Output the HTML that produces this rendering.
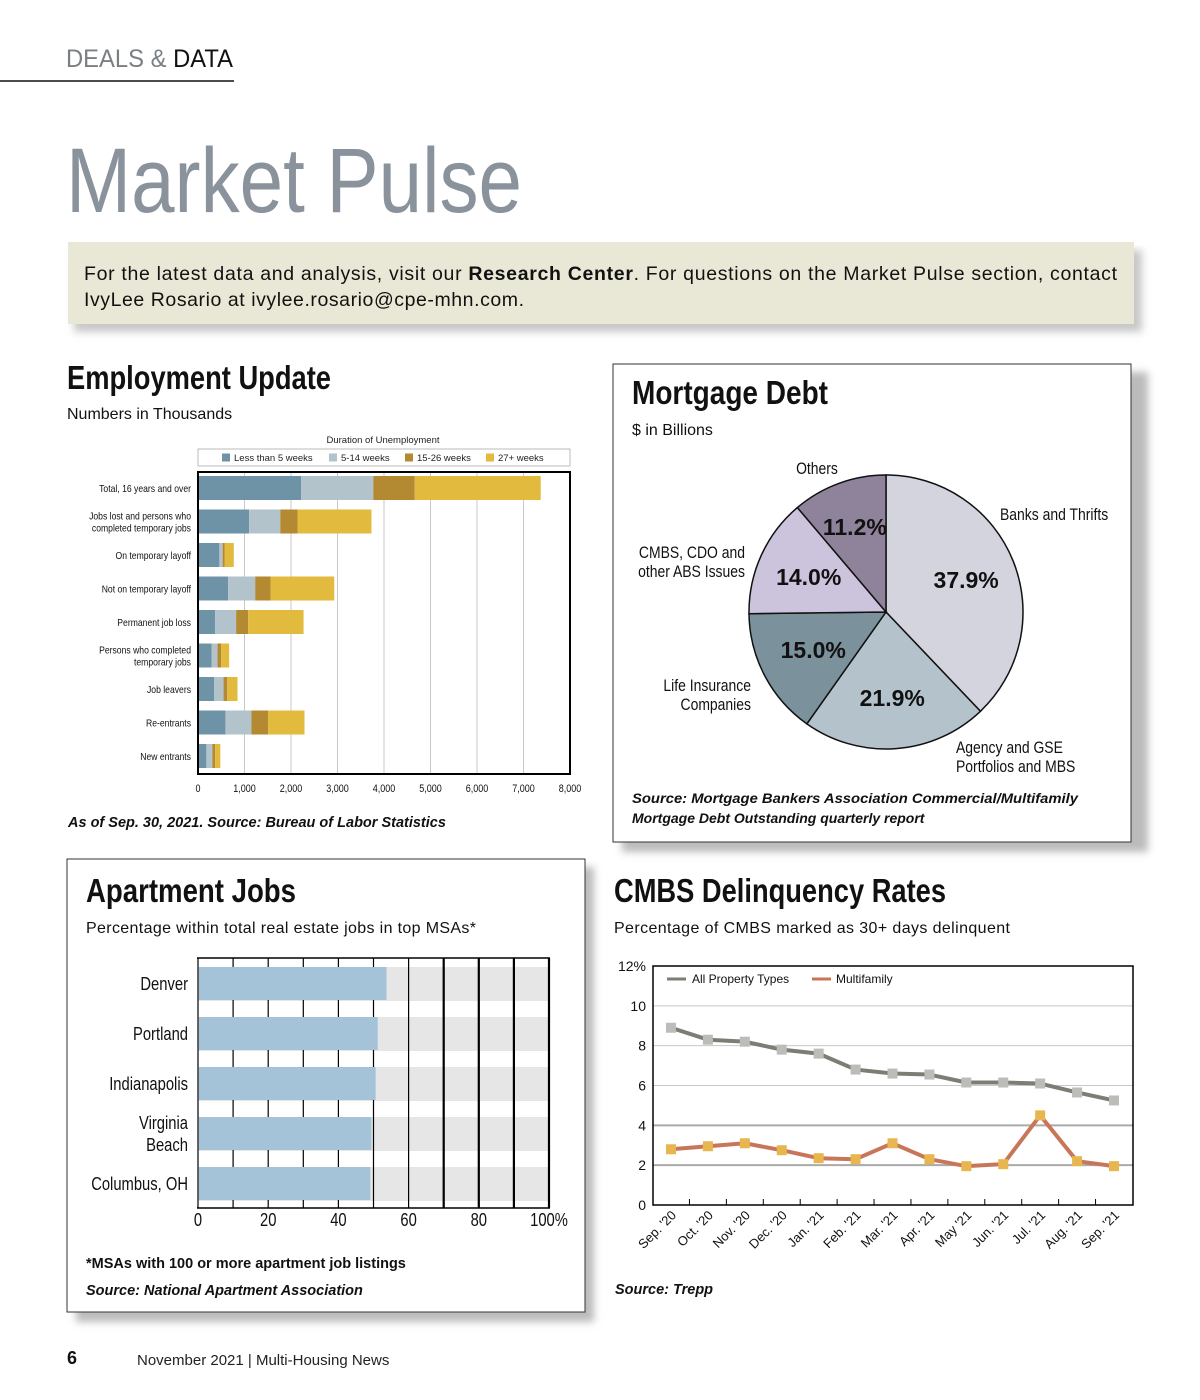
<!DOCTYPE html>
<html><head><meta charset="utf-8"><style>
html,body{margin:0;padding:0;background:#fff;}
svg{display:block;font-family:"Liberation Sans",sans-serif;}
</style></head><body>
<svg id="pg" width="1200" height="1400" viewBox="0 0 1200 1400" xmlns="http://www.w3.org/2000/svg">
<defs>
<filter id="sh" x="-5%" y="-5%" width="115%" height="120%"><feGaussianBlur stdDeviation="4"/></filter>
</defs>
<!-- header -->
<text x="66" y="67" font-size="25" fill="#7a7f84" textLength="167" lengthAdjust="spacingAndGlyphs">DEALS &amp; <tspan fill="#111">DATA</tspan></text>
<line x1="0" y1="81" x2="234" y2="81" stroke="#111" stroke-width="1.5"/>
<text x="66" y="212" font-size="92" fill="#8a939c" textLength="456" lengthAdjust="spacingAndGlyphs">Market Pulse</text>
<!-- info box -->
<rect x="74" y="250" width="1068" height="82" fill="#c8c8c8" filter="url(#sh)"/>
<rect x="68" y="242" width="1066" height="82" fill="#e9e8d6"/>
<text x="84" y="280" font-size="19.5" fill="#111" textLength="1033" lengthAdjust="spacing">For the latest data and analysis, visit our <tspan font-weight="bold">Research Center</tspan>. For questions on the Market Pulse section, contact</text>
<text x="84" y="306" font-size="19.5" fill="#111" textLength="440" lengthAdjust="spacing">IvyLee Rosario at ivylee.rosario@cpe-mhn.com.</text>

<!-- employment -->
<text x="67" y="389" font-size="33" font-weight="bold" fill="#111" textLength="264" lengthAdjust="spacingAndGlyphs">Employment Update</text>
<text x="67" y="419" font-size="16" fill="#111">Numbers in Thousands</text>
<text x="383" y="443" text-anchor="middle" font-size="9.5" fill="#222">Duration of Unemployment</text>
<rect x="198" y="449" width="372" height="17" fill="#fff" stroke="#bbb"/>
<g id="empLegend"></g>
<g id="empGrid"></g>
<g id="empBars"></g>
<rect x="198" y="472" width="372" height="302" fill="none" stroke="#000" stroke-width="2"/>
<text x="68" y="827" font-size="14.5" font-weight="bold" font-style="italic" fill="#111">As of Sep. 30, 2021.  Source: Bureau of Labor Statistics</text>

<!-- mortgage -->
<rect x="622" y="372" width="526" height="480" fill="#bbb" filter="url(#sh)"/>
<rect x="613" y="364" width="518" height="478" fill="#fff" stroke="#333"/>
<text x="632" y="404" font-size="33" font-weight="bold" fill="#111" textLength="196" lengthAdjust="spacingAndGlyphs">Mortgage Debt</text>
<text x="632" y="435" font-size="16" fill="#111">$ in Billions</text>
<g id="pie"></g>
<g class="n" font-size="17" fill="#111">
<text x="817" y="474" text-anchor="middle">Others</text>
<text x="1000" y="520">Banks and Thrifts</text>
<text x="745" y="558" text-anchor="end">CMBS, CDO and</text>
<text x="745" y="577" text-anchor="end">other ABS Issues</text>
<text x="751" y="691" text-anchor="end">Life Insurance</text>
<text x="751" y="710" text-anchor="end">Companies</text>
<text x="956" y="753">Agency and GSE</text>
<text x="956" y="772">Portfolios and MBS</text>
</g>
<text x="632" y="803" font-size="14" font-weight="bold" font-style="italic" fill="#111" textLength="446" lengthAdjust="spacingAndGlyphs">Source: Mortgage Bankers Association Commercial/Multifamily</text>
<text x="632" y="823" font-size="14" font-weight="bold" font-style="italic" fill="#111">Mortgage Debt Outstanding quarterly report</text>

<!-- apartment jobs -->
<rect x="76" y="867" width="518" height="455" fill="#bbb" filter="url(#sh)"/>
<rect x="67" y="859" width="518" height="453" fill="#fff" stroke="#333"/>
<text x="86" y="902" font-size="33" font-weight="bold" fill="#111" textLength="210" lengthAdjust="spacingAndGlyphs">Apartment Jobs</text>
<text x="86" y="933" font-size="16" fill="#111" textLength="390" lengthAdjust="spacing">Percentage within total real estate jobs in top MSAs*</text>
<g id="apt"></g>
<text x="86" y="1268" font-size="14.5" font-weight="bold" fill="#111">*MSAs with 100 or more apartment job listings</text>
<text x="86" y="1295" font-size="14.5" font-weight="bold" font-style="italic" fill="#111">Source: National Apartment Association</text>

<!-- cmbs -->
<text x="614" y="902" font-size="33" font-weight="bold" fill="#111" textLength="332" lengthAdjust="spacingAndGlyphs">CMBS Delinquency Rates</text>
<text x="614" y="933" font-size="16" fill="#111" textLength="396" lengthAdjust="spacing">Percentage of CMBS marked as 30+ days delinquent</text>
<g id="cmbs"></g>
<text x="615" y="1294" font-size="14.5" font-weight="bold" font-style="italic" fill="#111">Source: Trepp</text>

<!-- footer -->
<text x="67" y="1364" font-size="18" font-weight="bold" fill="#111">6</text>
<text x="137" y="1365" font-size="15" fill="#222">November 2021  |  Multi-Housing News</text>
</svg>
<script>
const NS="http://www.w3.org/2000/svg";
function mk(tag,attrs,parent,txt){const e=document.createElementNS(NS,tag);for(const k in attrs)e.setAttribute(k,attrs[k]);if(txt!=null)e.textContent=txt;parent.appendChild(e);return e;}

// ---- Employment data ----
const empCategories=[["Total, 16 years and over"],["Jobs lost and persons who","completed temporary jobs"],["On temporary layoff"],["Not on temporary layoff"],["Permanent job loss"],["Persons who completed","temporary jobs"],["Job leavers"],["Re-entrants"],["New entrants"]];
const empSeriesNames=["Less than 5 weeks","5-14 weeks","15-26 weeks","27+ weeks"];
const empLt5=[2220,1100,460,650,370,290,350,590,180];
const emp5to14=[1550,670,70,580,450,130,200,560,130];
const emp15to26=[890,370,40,330,260,80,80,360,60];
const emp27plus=[2710,1590,200,1370,1190,170,220,780,110];
const empTicks=["0","1,000","2,000","3,000","4,000","5,000","6,000","7,000","8,000"];
const empColors=["#6f93a6","#b3c3cb","#b38a32","#e2bb3e"];

const ex=v=>198+v/8000*372;
const ey=i=>488+i*33.5;
const eg=document.getElementById('empGrid');
empTicks.forEach((t,i)=>{
  const x=ex(i*1000);
  const l=mk('line',{x1:x,y1:472,x2:x,y2:774,stroke:'#c8c8c8','stroke-width':1},eg);
  
  
  const tx=mk('text',{x:x,y:792,'text-anchor':'middle','font-size':11,class:'n',fill:'#111'},eg,t);
  
  
});
const eb=document.getElementById('empBars');
const empSeries=[empLt5,emp5to14,emp15to26,emp27plus];
empCategories.forEach((c,i)=>{
  let acc=0;
  empSeries.forEach((s,k)=>{
    const r=mk('rect',{x:ex(acc),y:ey(i)-12,width:ex(acc+s[i])-ex(acc),height:24,fill:empColors[k]},eb);
    
    
    acc+=s[i];
  });
  c.forEach((ln,j)=>{
    const yy=ey(i)+4+(j-(c.length-1)/2)*12;
    const t=mk('text',{x:191,y:yy,'text-anchor':'end','font-size':10.5,class:'n',fill:'#111'},eb,ln);
    
    
  });
});
const el=document.getElementById('empLegend');
const legX=[222,329,405,486];
empSeriesNames.forEach((n,k)=>{
  const r=mk('rect',{x:legX[k],y:453.5,width:8,height:8,fill:empColors[k]},el);
  
  
  const t=mk('text',{x:legX[k]+12,y:461,'font-size':9.5,fill:'#222'},el,n);
  
  
});

// ---- Pie ----
const pieLabels=["Banks and Thrifts","Agency and GSE","Life Insurance","CMBS, CDO","Others"];
const pieValues=[37.9,21.9,15.0,14.0,11.2];
const pieColors=["#d3d4de","#b4c3cb","#7b919c","#ccc3dc","#8f839b"];
const pg=document.getElementById('pie');
const cx=886,cy=612,R=137;
let a0=0;const tot=pieValues.reduce((a,b)=>a+b,0);
const pt=(a,r)=>[cx+r*Math.sin(a),cy-r*Math.cos(a)];
const pieR=[0.63,0.63,0.6,0.62,0.66];
pieValues.forEach((v,i)=>{
  const a1=a0+v/tot*2*Math.PI;
  const p0=pt(a0,R),p1=pt(a1,R);
  const large=(a1-a0)>Math.PI?1:0;
  const p=mk('path',{d:`M${cx},${cy} L${p0[0]},${p0[1]} A${R},${R} 0 ${large} 1 ${p1[0]},${p1[1]} Z`,fill:pieColors[i],stroke:'#111','stroke-width':1.5},pg);
  
  
  a0=a1;
});
a0=0;
pieValues.forEach((v,i)=>{
  const a1=a0+v/tot*2*Math.PI;
  const am=(a0+a1)/2;const q=pt(am,R*pieR[i]);
  const t=mk('text',{x:q[0],y:q[1]+8,'text-anchor':'middle','font-size':23,'font-weight':'bold',fill:'#111'},pg,v.toFixed(1)+'%');
  
  
  a0=a1;
});

// ---- Apartment jobs ----
const aptCities=[["Denver"],["Portland"],["Indianapolis"],["Virginia","Beach"],["Columbus, OH"]];
const aptValues=[53.7,51.2,50.6,49.4,49.1];
const aptTicks=["0","20","40","60","80","100%"];
const ag=document.getElementById('apt');
const axx=v=>198+v/100*351;
const ayy=i=>967+i*50;
aptCities.forEach((c,i)=>{
  const b=mk('rect',{x:198,y:ayy(i),width:351,height:34,fill:'#e6e6e6'},ag);
  
  
});
for(let v=0;v<=100;v+=10){
  const l=mk('line',{x1:axx(v),y1:958,x2:axx(v),y2:1208,stroke:'#000','stroke-width':v>=70?2.2:1.2},ag);
  
  
}
mk('line',{x1:197,y1:958,x2:550,y2:958,stroke:'#000','stroke-width':1.5},ag);
mk('line',{x1:197,y1:1208,x2:550,y2:1208,stroke:'#000','stroke-width':1.5},ag);
aptCities.forEach((c,i)=>{
  const r=mk('rect',{x:199,y:ayy(i),width:axx(aptValues[i])-199,height:33,fill:'#a4c2d8'},ag);
  
  
  c.forEach((ln,j)=>{
    const yy=ayy(i)+23+(j-(c.length-1)/2)*22;
    const t=mk('text',{x:188,y:yy,'text-anchor':'end','font-size':18,class:'n',fill:'#111'},ag,ln);
    
    
  });
});
aptTicks.forEach((t,i)=>{
  const x=axx(i*20);
  const tx=mk('text',{x:i==5?x:x,y:1226,'text-anchor':'middle','font-size':18,class:'n',fill:'#111'},ag,t);
  
  
});

// ---- CMBS ----
const cmbsMonths=["Sep. '20","Oct. '20","Nov. '20","Dec. '20","Jan. '21","Feb. '21","Mar. '21","Apr. '21","May '21","Jun. '21","Jul. '21","Aug. '21","Sep. '21"];
const cmbsAll=[8.9,8.3,8.2,7.8,7.6,6.8,6.6,6.55,6.15,6.15,6.1,5.65,5.25];
const cmbsMulti=[2.8,2.95,3.1,2.75,2.35,2.3,3.1,2.3,1.95,2.05,4.5,2.2,1.95];
const cmbsTicks=[0,2,4,6,8,10,12];
const cg=document.getElementById('cmbs');
const L=653,Rt=1133,T=966,B=1205;
const cyv=v=>B-v/12*(B-T);
const cxi=i=>671+i*(1114-671)/12;
cmbsTicks.forEach(v=>{
  if(v>0&&v<12){const l=mk('line',{x1:L,y1:cyv(v),x2:Rt,y2:cyv(v),stroke:v<=4?'#aaa':'#c8c8c8','stroke-width':v<=4?2:1},cg);
  
  }
  const t=mk('text',{x:646,y:cyv(v)+5,'text-anchor':'end','font-size':14,fill:'#111'},cg,v==12?'12%':String(v));
  
  
});
mk('rect',{x:L,y:T,width:Rt-L,height:B-T,fill:'none',stroke:'#000','stroke-width':1.5},cg);
for(let i=0;i<12;i++){
  const x=(cxi(i)+cxi(i+1))/2;
  mk('line',{x1:x,y1:B,x2:x,y2:B-6,stroke:'#000','stroke-width':1},cg);
}
function series(vals,lineCol,markCol,name){
  const d=vals.map((v,i)=>(i?'L':'M')+cxi(i)+','+cyv(v)).join(' ');
  const p=mk('path',{d:d,fill:'none',stroke:lineCol,'stroke-width':4,'stroke-linejoin':'round'},cg);
  
  
  vals.forEach((v,i)=>{
    const r=mk('rect',{x:cxi(i)-5,y:cyv(v)-5,width:10,height:10,fill:markCol},cg);
    
    
  });
}
series(cmbsAll,'#7d7d74','#bdbcb8','all-property');
series(cmbsMulti,'#c8765a','#e8b64e','multifamily');
cmbsMonths.forEach((m,i)=>{
  const x=cxi(i)+6,y=1216;
  const t=mk('text',{x:x,y:y,'text-anchor':'end','font-size':13,fill:'#111',transform:`rotate(-45 ${x} ${y})`},cg,m);
  
  
});
const lg1=mk('line',{x1:667,y1:979,x2:686,y2:979,stroke:'#7d7d74','stroke-width':3},cg);


const lt1=mk('text',{x:692,y:983,'font-size':12,fill:'#111'},cg,'All Property Types');


const lg2=mk('line',{x1:812,y1:979,x2:831,y2:979,stroke:'#c8765a','stroke-width':3},cg);


const lt2=mk('text',{x:836,y:983,'font-size':12,fill:'#111'},cg,'Multifamily');



// condense "narrow" labels
document.querySelectorAll('.n text, text.n').forEach(t=>{
  const w=t.getComputedTextLength();
  if(w>0){t.setAttribute('textLength',(w*0.82).toFixed(1));t.setAttribute('lengthAdjust','spacingAndGlyphs');}
});
</script>
</body></html>
